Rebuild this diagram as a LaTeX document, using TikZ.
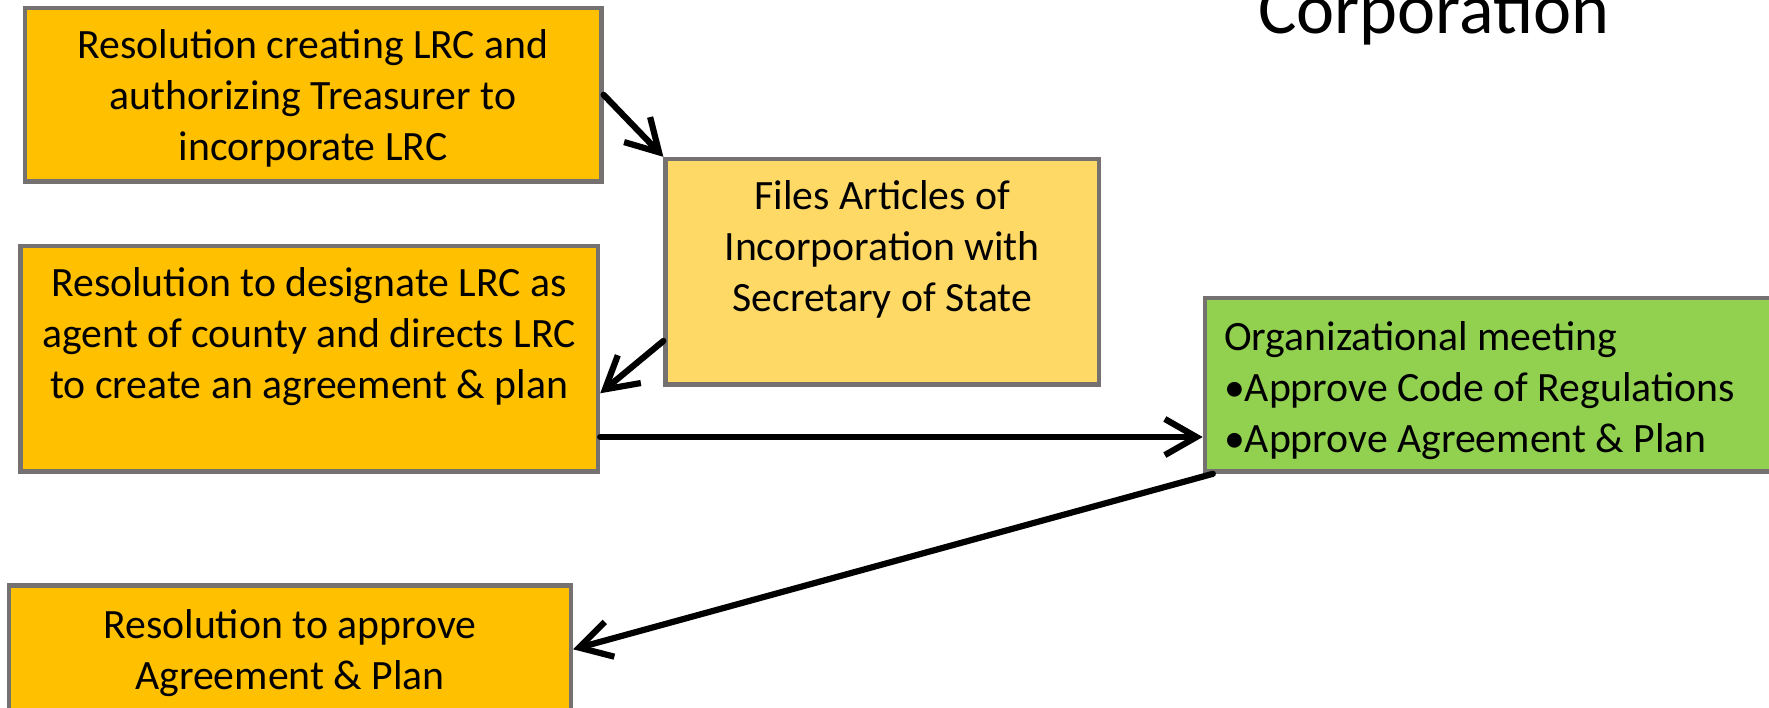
\documentclass[tikz,border=0pt]{standalone}
\usepackage{fontspec}
\setmainfont{Carlito}
\usepackage{tikz}
\usetikzlibrary{arrows.meta}
\usetikzlibrary{positioning}
\usetikzlibrary{calc}
\definecolor{boxgray}{RGB}{118,113,113}
\definecolor{resorange}{RGB}{255,192,0}
\definecolor{fileyellow}{RGB}{255,217,102}
\definecolor{meetgreen}{RGB}{146,208,80}

\begin{document}
\begin{tikzpicture}[x=0.5pt, y=-0.5pt]
        \tikzstyle{every node}=[font=\fontsize{18.5}{22.6}\selectfont]
        \tikzstyle{box}=[draw=boxgray, line width=2pt, rectangle, inner sep=0pt, align=center,
                         execute at begin node=\strut, execute at end node=\strut]
        \tikzstyle{boxc}=[box, text depth=0pt]
        \tikzstyle{arr}=[draw=black, line width=2.75pt, line cap=round,
                         -{Straight Barb[length=14pt,width=16pt]}]
        \useasboundingbox (0,0) rectangle (1568,627);
        \node[anchor=base, font=\fontsize{32}{38}\selectfont] (title) at (1271,29.5) {Corporation};
        \node[boxc, fill=resorange, minimum width=255.5pt, minimum height=77pt] (A) at (277.5,84)
          {Resolution creating LRC and\\authorizing Treasurer to\\incorporate LRC};
        \node[boxc, fill=fileyellow, minimum width=192pt, minimum height=100pt] (B) at (782,241)
          {Files Articles of\\Incorporation with\\Secretary of State\\};
        \node[boxc, fill=resorange, minimum width=256pt, minimum height=100pt] (C) at (274,318)
          {Resolution to designate LRC as\\agent of county and directs LRC\\to create an agreement \& plan\\};
        \node[box, fill=meetgreen, anchor=west, minimum width=262pt, minimum height=77pt,
              text width=245pt, align=flush left, execute at begin node={\rule{0pt}{21.5pt}}] (M) at (1066,341)
          {Organizational meeting\\•Approve Code of Regulations\\•Approve Agreement \& Plan};
        \node[boxc, fill=resorange, minimum width=249pt, minimum height=56.5pt] (E) at (257,575.5)
          {Resolution to approve\\Agreement \& Plan};
        % arrows
        \draw[arr] (A.east) -- (B.north west);
        \draw[arr] ($(B.north west)!0.8!(B.south west)$) -- ($(C.north east)!0.65!(C.south east)$);
        \coordinate (c3) at ($(C.north east)!0.84!(C.south east)$);
        \draw[arr] (c3) -- (c3 -| M.west);
        \draw[arr] ([xshift=4.5pt]M.south west) -- (E.east);
\end{tikzpicture}
\end{document}
